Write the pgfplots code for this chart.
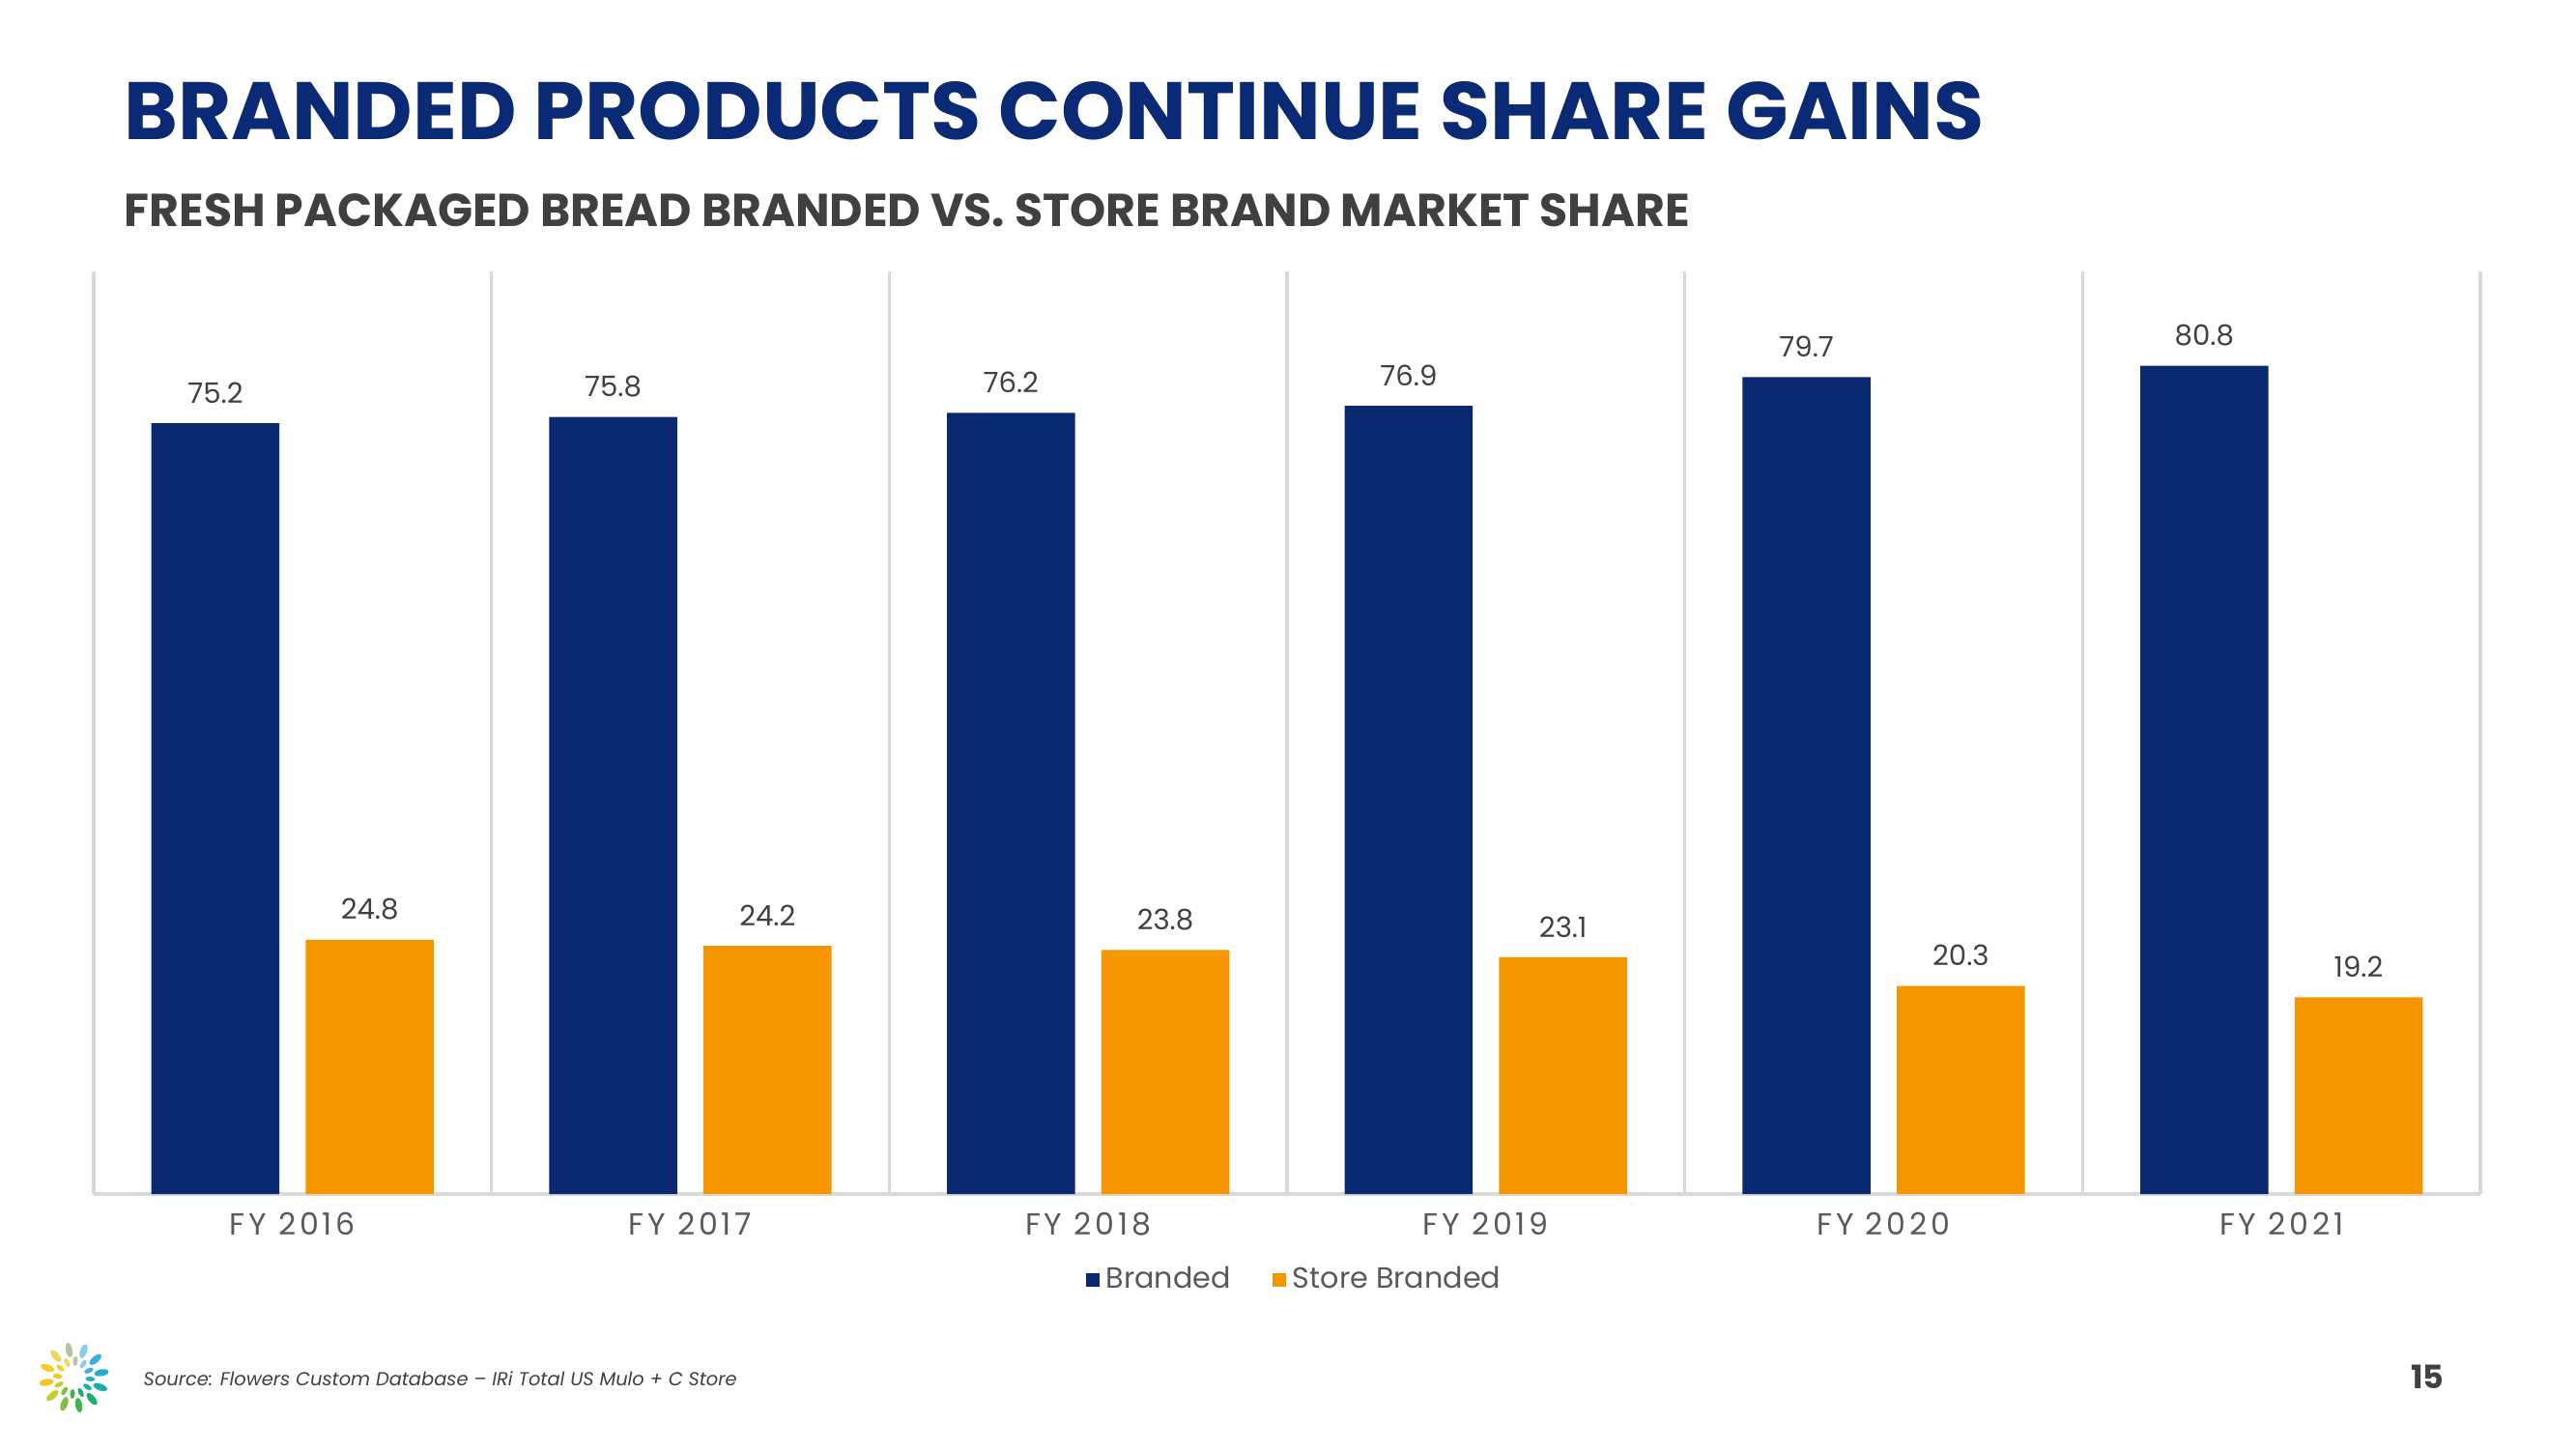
\documentclass[border=0pt]{standalone}
\usepackage{fontspec}
\setmainfont{Poppins}
\usepackage{graphicx}
\usepackage{pgfplots}
\usepackage{pgfplotstable}
\pgfplotsset{compat=1.18}
\definecolor{navy}{HTML}{0A2870}
\definecolor{orng}{HTML}{F59600}
\definecolor{titlenavy}{HTML}{0B2A75}
\definecolor{subgray}{HTML}{404040}
\definecolor{tickgray}{HTML}{595959}
\definecolor{gridgray}{HTML}{D9D9D9}

\pgfplotstableread{
x branded store
0 75.2 24.8
1 75.8 24.2
2 76.2 23.8
3 76.9 23.1
4 79.7 20.3
5 80.8 19.2
}\datatable

\begin{document}
\begin{tikzpicture}[x=1cm,y=1cm]
\path[use as bounding box, fill=white] (0,0) rectangle (26.66,15);
\node[anchor=base west, inner sep=0, text=titlenavy] at (1.28,13.555)
  {\resizebox{19.25cm}{0.60cm}{\bfseries BRANDED PRODUCTS CONTINUE SHARE GAINS}};
\node[anchor=base west, inner sep=0, text=subgray] at (1.28,12.65)
  {\resizebox{16.20cm}{0.34cm}{\bfseries FRESH PACKAGED BREAD BRANDED VS. STORE BRAND MARKET SHARE}};
\begin{axis}[
  at={(0.97cm,2.64cm)}, anchor=south west,
  width=24.70cm, height=9.55cm, scale only axis,
  xmin=-0.5, xmax=5.5, ymin=0, ymax=90,
  axis x line*=bottom, axis y line=none,
  x axis line style={gridgray, line width=1pt, -},
  ybar, bar width=0.322,
  xtick={0,...,5},
  xticklabels={FY 2016,FY 2017,FY 2018,FY 2019,FY 2020,FY 2021},
  major tick length=0, minor tick length=0,
  minor xtick={-0.5,0.5,...,5.5},
  xminorgrids, minor grid style={gridgray, line width=1pt},
  xticklabel style={font=\fontsize{9}{10}\selectfont\addfontfeature{LetterSpace=12}, text=tickgray, yshift=-2pt},
  nodes near coords,
  nodes near coords style={font=\fontsize{8.3}{10}\selectfont, text=subgray, yshift=2.3pt},
  /pgf/number format/assume math mode=true,
  /pgf/number format/fixed, /pgf/number format/precision=1, /pgf/number format/fixed zerofill,
  legend columns=2,
  legend style={draw=none, fill=none, at={(0.5,0)}, anchor=center, yshift=-0.89cm, xshift=0.1cm,
    font=\fontsize{8.6}{10}\selectfont, text=tickgray,
    /tikz/every even column/.append style={column sep=0.36cm},
    inner sep=0pt, nodes={inner sep=2pt}},
]
\addplot[fill=navy, draw=none, bar shift=-0.194,
  legend image code/.code={\fill[navy] (0cm,-0.07cm) rectangle (0.14cm,0.07cm);}]
  table[x=x,y=branded]{\datatable};
\addlegendentry{Branded}
\addplot[fill=orng, draw=none, bar shift=0.194,
  legend image code/.code={\fill[orng] (0cm,-0.07cm) rectangle (0.14cm,0.07cm);}]
  table[x=x,y=store]{\datatable};
\addlegendentry{Store Branded}
\end{axis}
% source and page number
\node[anchor=base west, inner sep=0, text=subgray] at (1.48,0.66)
  {\resizebox{6.14cm}{!}{\itshape Source: Flowers Custom Database – IRi Total US Mulo + C Store}};
\node[anchor=base east, inner sep=0, text=subgray] at (25.30,0.63)
  {\fontsize{9.5}{11}\selectfont\bfseries 15};
% logo
\begin{scope}[shift={(0.765,0.74)}]
\foreach \a/\c in {100/B5C4A5,70/8CCBEA,40/3BB0E6,10/22AECD,-20/1AAEA5,-50/1FAE6E,-80/3DB54A,-110/7DC142,-140/BFD02F,-170/F2C81F,160/F7CF2A,130/F0D560}{
  \definecolor{pc}{HTML}{\c}
  \fill[pc, rotate=\a] (0.29,0) ellipse (0.075 and 0.035);
  \fill[pc, rotate=\a-15] (0.17,0) ellipse (0.05 and 0.025);
}
\end{scope}
\end{tikzpicture}
\end{document}
